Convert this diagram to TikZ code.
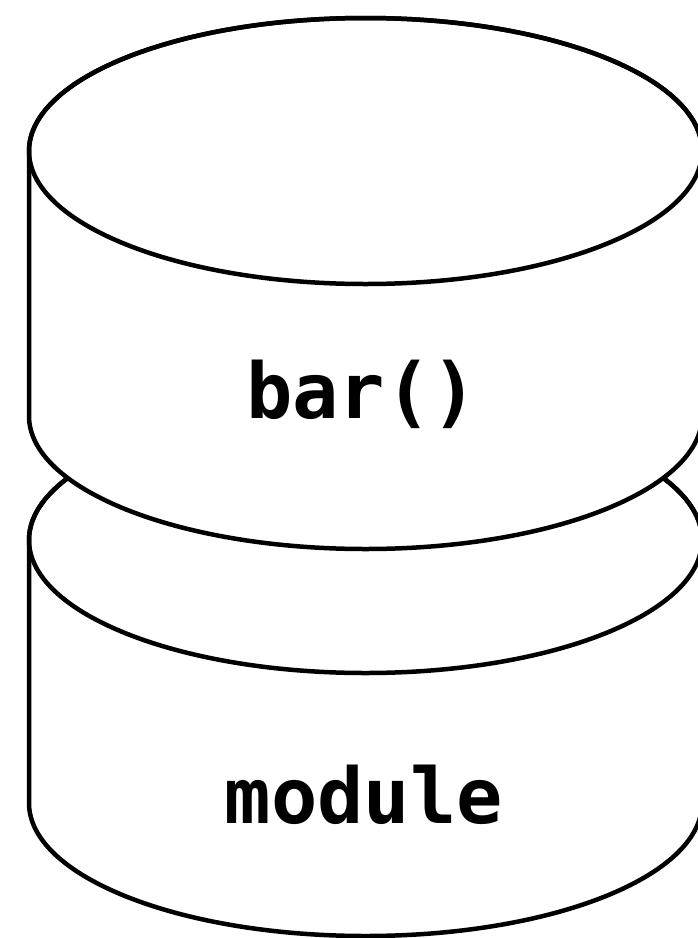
\documentclass[tikz,border=0pt]{standalone}
\usepackage{fontspec}
\setmonofont{DejaVu Sans Mono}
\begin{document}
\begin{tikzpicture}[x=1pt,y=-1pt,
  cyl/.style={line width=4.5pt, draw=black, fill=white, line join=round},
  edge/.style={line width=4.5pt, draw=black},
  lbl/.style={font=\ttfamily\bfseries\fontsize{77}{82}\selectfont, anchor=base, inner sep=0pt}]
\useasboundingbox (0,0) rectangle (698,938);
\begin{scope}
\clip (0,0) rectangle (698,938);
% bottom cylinder
\path[cyl] (29,540) -- (29,803)
  arc[start angle=180, end angle=0, x radius=336.5, y radius=133]
  -- (702,540)
  arc[start angle=0, end angle=-180, x radius=336.5, y radius=133] -- cycle;
\draw[edge] (365.5,540) ellipse[x radius=336.5, y radius=133];
% top cylinder
\path[cyl] (29,151) -- (29,416)
  arc[start angle=180, end angle=0, x radius=336.5, y radius=133]
  -- (702,151)
  arc[start angle=0, end angle=-180, x radius=336.5, y radius=133] -- cycle;
\draw[edge] (365.5,151) ellipse[x radius=336.5, y radius=133];
\end{scope}
% labels
\node[lbl] (bar) at (362,418) {bar()};
\node[lbl] (module) at (364,823) {module};
\end{tikzpicture}
\end{document}
